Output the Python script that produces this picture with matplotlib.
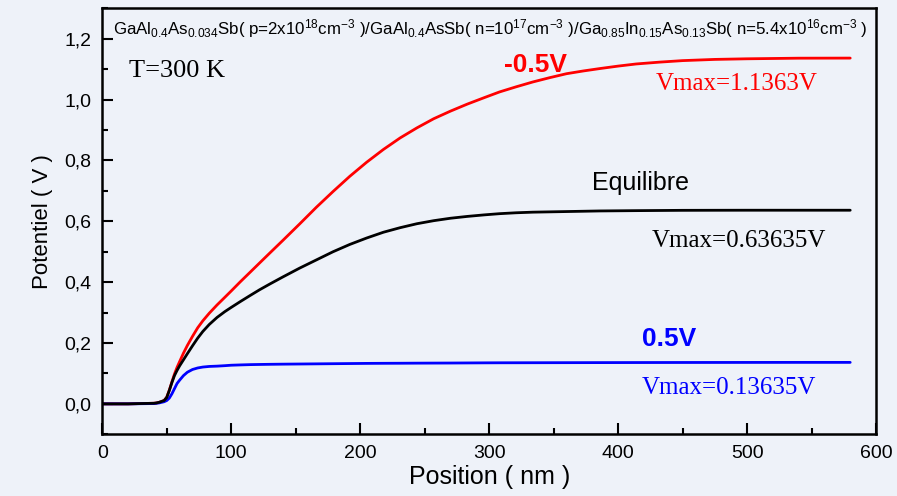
import matplotlib
matplotlib.use("Agg")
import matplotlib.pyplot as plt
from matplotlib.ticker import MultipleLocator, FuncFormatter

# Position axis (nm) shared by the three potential profiles
position = [0, 20, 40, 42, 44, 46, 48, 50, 52, 54, 56, 58, 60, 63, 66, 70,
            74, 78, 83, 89, 95, 100, 107, 115, 122, 130, 140, 153, 166, 179,
            192, 205, 218, 231, 244, 257, 270, 283, 296, 308, 321, 334, 347,
            360, 373, 386, 400, 414, 432, 450, 475, 500, 540, 580]

# Potential (V) under reverse bias -0.5 V
v_reverse = [0.0, 0.0, 0.002, 0.003, 0.005, 0.008, 0.011, 0.022, 0.045,
             0.072, 0.098, 0.12, 0.139, 0.167, 0.192, 0.222, 0.25, 0.273,
             0.298, 0.325, 0.35, 0.371, 0.401, 0.434, 0.463, 0.496, 0.537,
             0.591, 0.646, 0.698, 0.748, 0.794, 0.836, 0.874, 0.907, 0.937,
             0.962, 0.985, 1.006, 1.025, 1.042, 1.058, 1.072, 1.085, 1.094,
             1.102, 1.11, 1.117, 1.123, 1.128, 1.132, 1.134, 1.136, 1.1363]

# Potential (V) at equilibrium
v_equil = [0.0, 0.0, 0.002, 0.003, 0.005, 0.008, 0.011, 0.021, 0.044, 0.07,
           0.093, 0.11, 0.125, 0.145, 0.165, 0.191, 0.216, 0.238, 0.261,
           0.284, 0.303, 0.317, 0.336, 0.357, 0.375, 0.394, 0.417, 0.446,
           0.473, 0.5, 0.524, 0.545, 0.564, 0.579, 0.592, 0.602, 0.61,
           0.616, 0.621, 0.625, 0.628, 0.63, 0.631, 0.632, 0.633, 0.634,
           0.6345, 0.635, 0.6355, 0.636, 0.6362, 0.63635, 0.63635, 0.63635]

# Potential (V) under forward bias 0.5 V
v_forward = [0.0, 0.0, 0.001, 0.002, 0.003, 0.005, 0.007, 0.011, 0.019,
             0.033, 0.05, 0.067, 0.078, 0.093, 0.104, 0.113, 0.118, 0.121,
             0.123, 0.124, 0.1255, 0.127, 0.128, 0.129, 0.1295, 0.13, 0.1305,
             0.131, 0.1315, 0.132, 0.1325, 0.133, 0.1333, 0.1335, 0.1338,
             0.134, 0.1342, 0.1345, 0.1348, 0.135, 0.1351, 0.1352, 0.1353,
             0.1354, 0.1355, 0.1356, 0.1357, 0.1358, 0.1359, 0.136, 0.1361,
             0.1362, 0.13635, 0.13635]

bg = "#eef2f9"
sans = "Liberation Sans"
serif = "Liberation Serif"
plt.rcParams["mathtext.fontset"] = "custom"
plt.rcParams["mathtext.rm"] = sans
plt.rcParams["mathtext.it"] = sans

fig = plt.figure(figsize=(8.97, 4.96), dpi=100, facecolor=bg)
ax = fig.add_axes([0.1140, 0.1244, 0.8626, 0.8589])
ax.set_facecolor(bg)

line_kw = dict(lw=2.0, solid_joinstyle="round", solid_capstyle="round")
ax.plot(position, v_reverse, color="#ff0000", **line_kw)
ax.plot(position, v_forward, color="#0000ff", **line_kw)
ax.plot(position, v_equil, color="black", **line_kw)

ax.set_xlim(0, 600)
ax.set_ylim(-0.1, 1.3)
ax.xaxis.set_major_locator(MultipleLocator(100))
ax.xaxis.set_minor_locator(MultipleLocator(50))
ax.yaxis.set_major_locator(MultipleLocator(0.2))
ax.yaxis.set_minor_locator(MultipleLocator(0.1))
ax.yaxis.set_major_formatter(FuncFormatter(lambda v, p: f"{v:.1f}".replace(".", ",")))

ax.tick_params(which="both", direction="in", width=1.5, labelsize=14,
               top=False, right=False)
ax.tick_params(which="major", length=8, pad=8)
ax.tick_params(which="minor", length=4)
for s in ax.spines.values():
    s.set_linewidth(1.8)

for lab in ax.get_xticklabels() + ax.get_yticklabels():
    lab.set_family(sans)

ax.set_xlabel("Position ( nm )", family=sans, fontsize=18, labelpad=2)
ax.set_ylabel("Potentiel ( V )", family=sans, fontsize=16, labelpad=8)

title = (r"GaAl$_{0.4}$As$_{0.034}$Sb( p=2x10$^{18}$cm$^{-3}$ )/"
         r"GaAl$_{0.4}$AsSb( n=10$^{17}$cm$^{-3}$ )/"
         r"Ga$_{0.85}$In$_{0.15}$As$_{0.13}$Sb( n=5.4x10$^{16}$cm$^{-3}$ )")
ax.text(300.7, 1.215, title, family=sans, fontsize=12.2, va="baseline",
        ha="center")

ax.text(58.3, 1.075, "T=300 K", family=serif, fontsize=19, va="baseline",
        ha="center")

ax.text(336, 1.09, "-0.5V", color="#ff0000", family=sans, fontsize=19,
        weight="bold", va="baseline", ha="center")
ax.text(492, 1.033, "Vmax=1.1363V", color="#ff0000", family=serif,
        fontsize=18, va="baseline", ha="center")

ax.text(417, 0.7015, "Equilibre", color="black", family=sans, fontsize=18,
        va="baseline", ha="center")
ax.text(494, 0.517, "Vmax=0.63635V", color="black", family=serif,
        fontsize=18, va="baseline", ha="center")

ax.text(439.5, 0.191, "0.5V", color="#0000ff", family=sans, fontsize=19,
        weight="bold", va="baseline", ha="center")
ax.text(486, 0.034, "Vmax=0.13635V", color="#0000ff", family=serif,
        fontsize=18, va="baseline", ha="center")

fig.savefig("out.png", dpi=100, facecolor=bg)
